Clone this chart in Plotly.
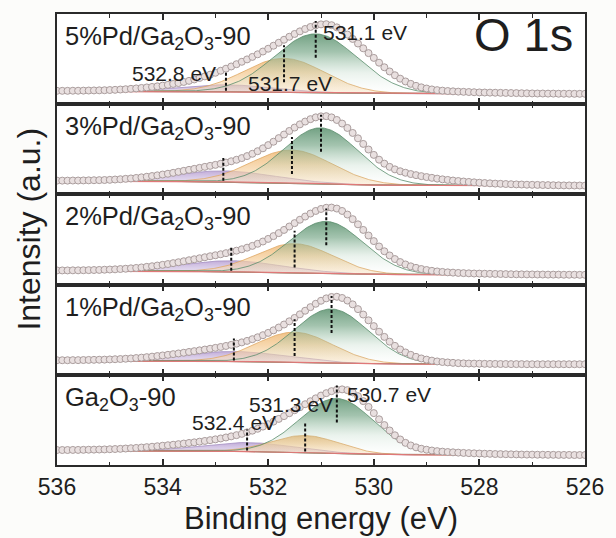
import numpy as np
import plotly.graph_objects as go
from plotly.subplots import make_subplots

# ---------------- data ----------------
ENERGY = [round(536.0 - 0.1 * i, 1) for i in range(101)]  # eV, measurement grid

SAMPLES = [
    "5%Pd/Ga<sub>2</sub>O<sub>3</sub>-90",
    "3%Pd/Ga<sub>2</sub>O<sub>3</sub>-90",
    "2%Pd/Ga<sub>2</sub>O<sub>3</sub>-90",
    "1%Pd/Ga<sub>2</sub>O<sub>3</sub>-90",
    "Ga<sub>2</sub>O<sub>3</sub>-90",
]

RAW_5PD = [13.4, 13.4, 13.4, 13.5, 13.5, 13.6, 13.7, 13.8, 13.9, 14.0,
           14.2, 14.4, 14.7, 15.0, 15.4, 15.8, 16.3, 16.8, 17.3, 17.9,
           18.6, 19.4, 20.3, 21.2, 22.3, 23.4, 24.8, 26.3, 27.9, 29.6,
           31.5, 33.5, 35.6, 37.8, 40.1, 42.5, 44.9, 47.4, 50.0, 52.8,
           55.6, 58.6, 61.6, 64.6, 67.6, 70.4, 73.0, 75.4, 77.4, 79.0,
           80.0, 80.2, 79.2, 77.0, 73.8, 69.8, 65.4, 60.8, 56.0, 51.2,
           46.4, 41.6, 37.0, 32.8, 29.0, 25.6, 22.8, 20.4, 18.4, 16.9,
           15.7, 14.8, 14.1, 13.6, 13.2, 12.9, 12.6, 12.4, 12.2, 12.0,
           11.8, 11.7, 11.6, 11.5, 11.4, 11.3, 11.2, 11.1, 11.0, 10.9,
           10.8, 10.7, 10.7, 10.6, 10.6, 10.5, 10.5, 10.5, 10.4, 10.4,
           10.4]
RAW_3PD = [13.8, 13.8, 13.8, 13.9, 13.9, 14.0, 14.1, 14.2, 14.3, 14.4,
           14.6, 14.9, 15.2, 15.6, 16.0, 16.5, 17.1, 17.7, 18.4, 19.1,
           19.9, 20.7, 21.6, 22.6, 23.6, 24.6, 25.6, 26.6, 27.6, 28.6,
           29.6, 30.7, 31.9, 33.2, 34.7, 36.4, 38.4, 40.7, 43.3, 46.2,
           49.4, 52.8, 56.4, 60.0, 63.6, 67.0, 70.2, 73.0, 75.4, 77.2,
           78.2, 78.4, 77.2, 74.6, 71.0, 66.6, 61.6, 56.2, 50.6, 45.0,
           39.6, 34.8, 30.8, 27.6, 25.1, 23.2, 21.7, 20.4, 19.3, 18.3,
           17.4, 16.6, 15.8, 15.1, 14.5, 13.9, 13.4, 12.9, 12.5, 12.1,
           11.7, 11.4, 11.1, 10.8, 10.6, 10.4, 10.2, 10.0, 9.9, 9.7,
           9.6, 9.5, 9.4, 9.3, 9.2, 9.1, 9.0, 9.0, 8.9, 8.9,
           8.8]
RAW_2PD = [14.2, 14.2, 14.2, 14.3, 14.3, 14.4, 14.5, 14.6, 14.7, 14.9,
           15.1, 15.3, 15.6, 15.9, 16.3, 16.7, 17.2, 17.8, 18.4, 19.1,
           19.8, 20.6, 21.5, 22.4, 23.4, 24.4, 25.4, 26.4, 27.4, 28.4,
           29.4, 30.4, 31.5, 32.7, 34.0, 35.4, 37.0, 38.8, 40.9, 43.2,
           45.8, 48.6, 51.6, 54.8, 58.2, 61.6, 65.0, 68.2, 71.2, 73.8,
           75.8, 77.0, 77.2, 76.2, 73.8, 70.2, 65.6, 60.4, 54.8, 49.2,
           43.6, 38.2, 33.4, 29.2, 25.6, 22.6, 20.2, 18.3, 16.8, 15.6,
           14.6, 13.8, 13.2, 12.7, 12.3, 12.0, 11.7, 11.5, 11.3, 11.1,
           11.0, 10.9, 10.8, 10.7, 10.6, 10.5, 10.4, 10.3, 10.3, 10.2,
           10.2, 10.1, 10.1, 10.0, 10.0, 10.0, 9.9, 9.9, 9.9, 9.8,
           9.8]
RAW_1PD = [14.6, 14.6, 14.6, 14.7, 14.7, 14.8, 14.9, 15.0, 15.1, 15.2,
           15.4, 15.6, 15.8, 16.1, 16.4, 16.8, 17.2, 17.7, 18.2, 18.8,
           19.4, 20.0, 20.7, 21.4, 22.1, 22.9, 23.7, 24.5, 25.3, 26.1,
           27.0, 27.9, 28.9, 30.0, 31.2, 32.5, 34.0, 35.7, 37.6, 39.7,
           42.0, 44.6, 47.4, 50.4, 53.6, 57.0, 60.6, 64.2, 67.8, 71.2,
           74.2, 76.6, 78.0, 78.2, 77.0, 74.4, 70.6, 65.8, 60.4, 54.6,
           48.8, 43.2, 38.0, 33.2, 29.0, 25.4, 22.4, 20.0, 18.0, 16.4,
           15.2, 14.2, 13.4, 12.8, 12.4, 12.0, 11.7, 11.5, 11.3, 11.2,
           11.1, 11.0, 10.9, 10.9, 10.8, 10.8, 10.7, 10.7, 10.7, 10.6,
           10.6, 10.6, 10.6, 10.6, 10.6, 10.6, 10.6, 10.6, 10.6, 10.6,
           10.6]
RAW_0PD = [15.0, 15.0, 15.0, 15.1, 15.1, 15.2, 15.3, 15.4, 15.5, 15.6,
           15.8, 16.0, 16.2, 16.5, 16.8, 17.1, 17.5, 17.9, 18.3, 18.8,
           19.3, 19.8, 20.3, 20.9, 21.5, 22.1, 22.7, 23.4, 24.1, 24.9,
           25.7, 26.6, 27.6, 28.7, 29.9, 31.2, 32.7, 34.4, 36.3, 38.5,
           40.9, 43.5, 46.2, 49.0, 51.9, 54.9, 57.9, 60.9, 63.9, 66.8,
           69.6, 72.0, 74.0, 75.4, 75.8, 75.0, 72.8, 69.0, 64.0, 58.2,
           52.0, 45.8, 40.0, 34.6, 29.8, 25.6, 22.2, 19.6, 17.7, 16.3,
           15.3, 14.5, 13.9, 13.4, 13.0, 12.7, 12.4, 12.1, 11.9, 11.7,
           11.5, 11.3, 11.2, 11.0, 10.9, 10.8, 10.7, 10.6, 10.5, 10.4,
           10.4, 10.3, 10.3, 10.2, 10.2, 10.1, 10.1, 10.1, 10.0, 10.0,
           10.0]
RAW = [RAW_5PD, RAW_3PD, RAW_2PD, RAW_1PD, RAW_0PD]

# Shirley background end levels (high-BE side, low-BE side)
BG_LEFT = [12.8, 13.3, 13.6, 14.0, 14.4]
BG_RIGHT = [10.4, 8.8, 9.8, 10.6, 10.0]

# fitted components: lattice O (green), O vacancy (orange), chemisorbed O (purple)
CENTER_OL = [531.1, 531.0, 530.9, 530.8, 530.7]
HEIGHT_OL = [59.0, 56.0, 52.0, 54.0, 55.0]
FWHM_OL = [1.85, 1.65, 1.65, 1.65, 1.65]
CENTER_OV = [531.7, 531.55, 531.5, 531.5, 531.3]
HEIGHT_OV = [34.0, 33.0, 29.0, 30.0, 17.0]
FWHM_OV = [1.8, 1.8, 1.7, 1.7, 1.5]
CENTER_OC = [532.8, 532.85, 532.7, 532.65, 532.4]
HEIGHT_OC = [7.0, 11.0, 11.0, 10.0, 9.0]
FWHM_OC = [2.0, 2.2, 2.2, 2.2, 2.0]

X_TICKS = [536, 534, 532, 530, 528, 526]
X_MINOR = [535, 533, 531, 529, 527]

for r in RAW:
    if len(r) != len(ENERGY):
        raise ValueError("length mismatch %d" % len(r))

# ---------------- styling ----------------
FONT = "Liberation Sans, Arial, Helvetica, sans-serif"
INK = "#1e1e1e"
FRAME = "#2a2a2a"
N = 5
PANEL_H = 90.4

COMP_STYLE = [  # gradient stops bottom->top, edge colour; drawn back-to-front
    ([[0, "rgba(208,192,228,0.35)"], [1, "rgba(186,162,212,0.88)"]], "#a58fc2"),   # purple
    ([[0, "rgba(250,220,180,0.35)"], [0.6, "rgba(245,204,150,0.78)"],
      [1, "rgba(239,188,124,0.92)"]], "#e0a865"),                                 # orange
    ([[0, "rgba(200,224,208,0.0)"], [0.35, "rgba(160,198,172,0.22)"],
      [0.7, "rgba(124,170,140,0.70)"], [1, "rgba(104,154,122,0.93)"]], "#5a8d6c"),  # green
]

fig = make_subplots(rows=N, cols=1, shared_xaxes=True, vertical_spacing=0)

fine = np.linspace(536.0, 526.0, 501)
e_arr = np.array(ENERGY)


def gauss(x, c, h, fwhm):
    s = fwhm / 2.3548
    return h * np.exp(-0.5 * ((x - c) / s) ** 2)


for p in range(N):
    row = p + 1
    raw = np.array(RAW[p])
    # Shirley-type background from the data
    excess = np.clip(raw - BG_RIGHT[p], 0, None)
    area_low = np.cumsum(excess[::-1])[::-1]
    bg = BG_RIGHT[p] + (BG_LEFT[p] - BG_RIGHT[p]) * area_low / area_low[0]
    bg_fine = np.interp(fine[::-1], e_arr[::-1], bg[::-1])[::-1]

    comps = [
        (CENTER_OC[p], HEIGHT_OC[p], FWHM_OC[p]),
        (CENTER_OV[p], HEIGHT_OV[p], FWHM_OV[p]),
        (CENTER_OL[p], HEIGHT_OL[p], FWHM_OL[p]),
    ]
    for (c, h, w), (cscale, edge) in zip(comps, COMP_STYLE):
        top = bg_fine + gauss(fine, c, h, w)
        fig.add_trace(go.Scatter(
            x=np.concatenate([fine, fine[::-1]]),
            y=np.concatenate([top, bg_fine[::-1]]),
            mode="lines", fill="toself",
            line=dict(color=edge, width=0.8),
            fillgradient=dict(type="vertical", colorscale=cscale),
            hoverinfo="skip", showlegend=False), row=row, col=1)

    # background line
    fig.add_trace(go.Scatter(x=fine, y=bg_fine, mode="lines",
                             line=dict(color="#e07878", width=1.2),
                             hoverinfo="skip", showlegend=False), row=row, col=1)

    # raw data
    fig.add_trace(go.Scatter(x=ENERGY, y=RAW[p], mode="markers",
                             marker=dict(symbol="circle", size=7, color="#e9e0e0",
                                         line=dict(color="#aa9d9d", width=1)),
                             hoverinfo="skip", showlegend=False), row=row, col=1)

    # dotted marker lines at component centres
    for (c, h, w) in comps:
        base = float(np.interp(c, e_arr[::-1], bg[::-1]))
        peak = base + h
        y_top = peak + 13
        y_bot = max(peak - 24, base + 1)
        fig.add_trace(go.Scatter(x=[c, c], y=[y_bot, y_top], mode="lines",
                                 line=dict(color="#111111", width=2, dash="3px,2px"),
                                 hoverinfo="skip", showlegend=False), row=row, col=1)

# ---------------- axes ----------------
for p in range(N):
    row = p + 1
    fig.update_xaxes(range=[536, 526], tickvals=X_TICKS, ticktext=[str(t) for t in X_TICKS],
                     ticks="inside", ticklen=6, tickwidth=1.5, tickcolor=FRAME,
                     showline=True, linewidth=2, linecolor=FRAME, mirror="allticks",
                     showgrid=False, zeroline=False,
                     minor=dict(ticks="inside", ticklen=3.5, tickwidth=1.2, tickcolor=FRAME,
                                tickvals=X_MINOR, showgrid=False),
                     showticklabels=(row == N),
                     tickfont=dict(family=FONT, size=23, color=INK),
                     row=row, col=1)
    fig.update_yaxes(range=[0, PANEL_H], showline=True, linewidth=2, linecolor=FRAME,
                     mirror=True, ticks="", showticklabels=False, showgrid=False,
                     zeroline=False, row=row, col=1)

annotations = []
for p in range(N):
    yref = "y domain" if p == 0 else "y%d domain" % (p + 1)
    annotations.append(dict(text=SAMPLES[p], xref="paper", yref=yref, x=0.011, y=0.735,
                            xanchor="left", yanchor="middle", showarrow=False,
                            font=dict(family=FONT, size=25.5, color=INK)))

annotations.append(dict(text="O 1s", xref="paper", yref="y domain", x=0.981, y=0.77,
                        xanchor="right", yanchor="middle", showarrow=False,
                        font=dict(family=FONT, size=47, color=INK)))

# peak position labels (top and bottom panels)
LABELS = [
    # (panel, energy, text-y, xanchor, xshift)
    (0, CENTER_OL[0], 72.0, "left", 5),
    (0, CENTER_OV[0], 20.5, "center", 6),
    (0, CENTER_OC[0], 31.0, "right", -8),
    (4, CENTER_OL[4], 71.0, "left", 8),
    (4, CENTER_OV[4], 61.0, "center", -14),
    (4, CENTER_OC[4], 43.0, "center", -13),
]
for (p, e, yy, anc, xs) in LABELS:
    xr = "x" if p == 0 else "x%d" % (p + 1)
    yr = "y" if p == 0 else "y%d" % (p + 1)
    annotations.append(dict(text="%.1f eV" % e, xref=xr, yref=yr, x=e, y=yy,
                            xanchor=anc, yanchor="middle", xshift=xs, showarrow=False,
                            font=dict(family=FONT, size=21, color=INK)))

annotations.append(dict(text="Binding energy (eV)", xref="paper", yref="paper",
                        x=0.5, y=-0.118, xanchor="center", yanchor="middle",
                        showarrow=False, font=dict(family=FONT, size=31, color=INK)))
annotations.append(dict(text="Intensity (a.u.)", xref="paper", yref="paper",
                        x=-0.053, y=0.522, xanchor="center", yanchor="middle", textangle=-90,
                        showarrow=False, font=dict(family=FONT, size=32, color=INK)))

fig.update_layout(width=616, height=538,
                  margin=dict(l=57, r=28, t=13, b=73),
                  plot_bgcolor="white", paper_bgcolor="#fcfcfa",
                  showlegend=False, annotations=annotations,
                  font=dict(family=FONT, color=INK))

fig.write_html("out.html")
